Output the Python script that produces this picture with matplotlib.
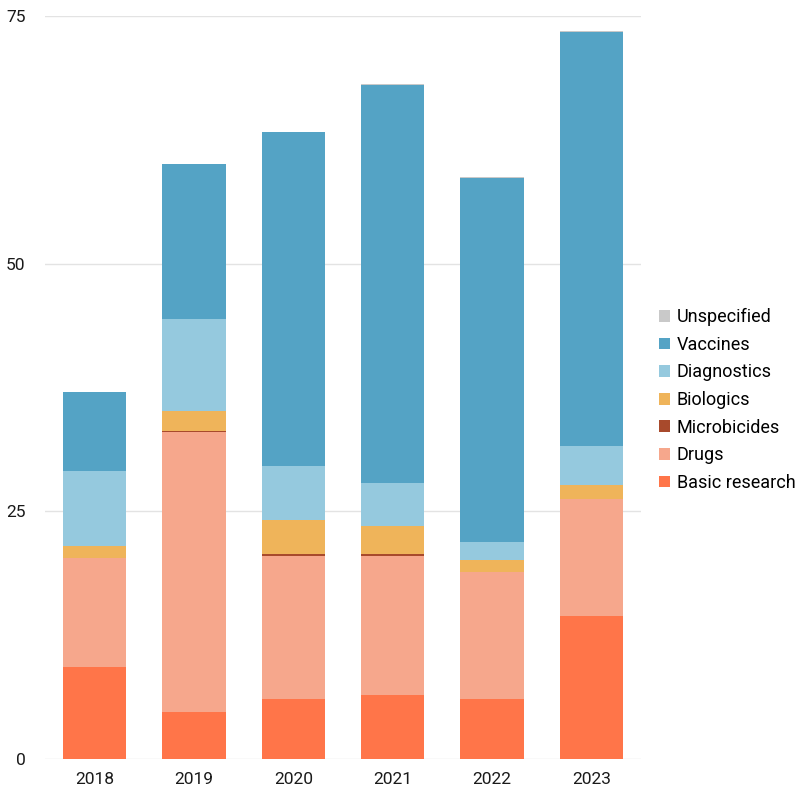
import matplotlib
matplotlib.use("Agg")
import matplotlib.pyplot as plt
from matplotlib.patches import Patch
import numpy as np

years = ["2018", "2019", "2020", "2021", "2022", "2023"]
basic_research = [9.26, 4.77, 6.06, 6.46, 6.03, 14.46]
drugs = [11.03, 28.23, 14.39, 14.03, 12.85, 11.81]
microbicides = [0.0, 0.15, 0.25, 0.17, 0.0, 0.0]
biologics = [1.24, 2.01, 3.45, 2.83, 1.21, 1.42]
diagnostics = [7.54, 9.22, 5.42, 4.40, 1.78, 3.93]
vaccines = [7.94, 15.65, 33.69, 40.14, 36.73, 41.78]
unspecified = [0.0, 0.0, 0.0, 0.12, 0.12, 0.12]

series = [
    ("Basic research", basic_research, "#FF7549"),
    ("Drugs", drugs, "#F6A78C"),
    ("Microbicides", microbicides, "#A84A2C"),
    ("Biologics", biologics, "#EFB45A"),
    ("Diagnostics", diagnostics, "#95C9DE"),
    ("Vaccines", vaccines, "#54A3C5"),
    ("Unspecified", unspecified, "#C9C9C9"),
]

plt.rcParams['font.family'] = ['Roboto', 'DejaVu Sans']

fig = plt.figure(figsize=(8.08, 7.99), dpi=100)
ax = fig.add_axes([45/808, 1-759/799, 596/808, 743/799])

x = np.arange(len(years))
bottom = np.zeros(len(years))
for name, vals, col in series:
    v = np.array(vals)
    ax.bar(x, v, bottom=bottom, width=0.64, color=col, label=name, linewidth=0, zorder=3)
    bottom += v

ax.set_xlim(-0.5, 5.5)
ax.set_ylim(0, 75)
ax.set_yticks([0, 25, 50, 75])
ax.set_xticks(x)
ax.set_xticklabels(years)
ax.grid(axis='y', color='#E3E3E3', linewidth=1, zorder=0)
for s in ax.spines.values():
    s.set_visible(False)
ax.tick_params(axis='both', length=0, labelsize=12.5, colors='#1a1a1a')
ax.tick_params(axis='y', pad=14)
ax.tick_params(axis='x', pad=9)

handles = [Patch(facecolor=col, label=name) for name, _, col in series[::-1]]
fig.legend(handles=handles, loc='center left', bbox_to_anchor=(659/808, 1-400/799),
           frameon=False, fontsize=13, handlelength=0.62, handleheight=0.62,
           handletextpad=0.35, labelspacing=0.53, borderaxespad=0, borderpad=0)

fig.savefig("out.png", dpi=100, facecolor='white')
